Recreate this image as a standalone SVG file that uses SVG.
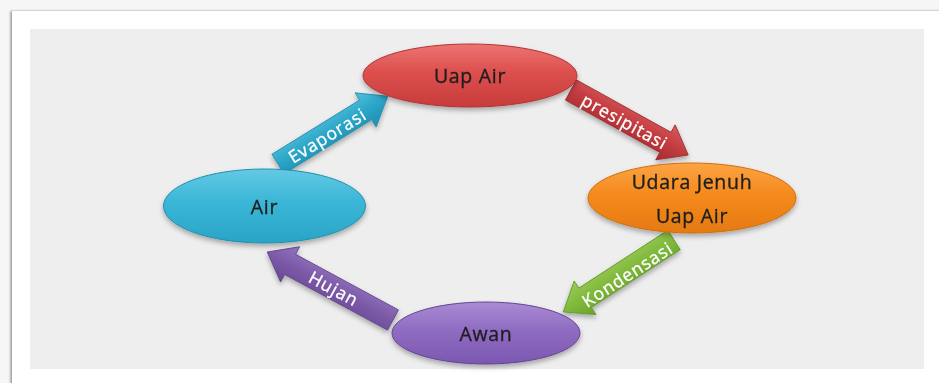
<svg xmlns="http://www.w3.org/2000/svg" width="939" height="383" viewBox="0 0 939 383">
  <style>
    .lbl { font-family: "Open Sans", "Lato", "Liberation Sans", sans-serif; font-size: 19.5px; letter-spacing: 0.7px; fill: #1e1e1e; stroke: #1e1e1e; stroke-width: 0.35px; text-anchor: middle; }
    .alb { font-family: "Open Sans", "Lato", "Liberation Sans", sans-serif; font-size: 17.5px; letter-spacing: 1px; fill: #ffffff; stroke: #ffffff; stroke-width: 0.3px; text-anchor: middle; dominant-baseline: central; }
  </style>
  <defs>
    <filter id="shadow" x="-20%" y="-20%" width="140%" height="160%">
      <feDropShadow dx="0" dy="3" stdDeviation="2.5" flood-color="#000" flood-opacity="0.3"/>
    </filter>
    <filter id="pageShadow" x="-5%" y="-5%" width="110%" height="110%">
      <feDropShadow dx="-1.5" dy="0" stdDeviation="1.2" flood-color="#000" flood-opacity="0.4"/>
    </filter>
    <linearGradient id="gRed" x1="0" y1="0" x2="0" y2="1">
      <stop offset="0" stop-color="#ec7472"/>
      <stop offset="0.45" stop-color="#dc4f4d"/>
      <stop offset="1" stop-color="#c73c3b"/>
    </linearGradient>
    <linearGradient id="gOrange" x1="0" y1="0" x2="0" y2="1">
      <stop offset="0" stop-color="#fba443"/>
      <stop offset="0.45" stop-color="#f58a1e"/>
      <stop offset="1" stop-color="#e57a10"/>
    </linearGradient>
    <linearGradient id="gCyan" x1="0" y1="0" x2="0" y2="1">
      <stop offset="0" stop-color="#63c9e4"/>
      <stop offset="0.45" stop-color="#3ab6d7"/>
      <stop offset="1" stop-color="#2aa4c6"/>
    </linearGradient>
    <linearGradient id="gPurple" x1="0" y1="0" x2="0" y2="1">
      <stop offset="0" stop-color="#a98bd3"/>
      <stop offset="0.45" stop-color="#8f6cc2"/>
      <stop offset="1" stop-color="#7c58b0"/>
    </linearGradient>
    <linearGradient id="aCyan" x1="0" y1="0" x2="0" y2="1">
      <stop offset="0" stop-color="#55c0dc"/>
      <stop offset="0.5" stop-color="#2ba5c8"/>
      <stop offset="1" stop-color="#1e8fb2"/>
    </linearGradient>
    <linearGradient id="aRed" x1="0" y1="0" x2="0" y2="1">
      <stop offset="0" stop-color="#d85a5c"/>
      <stop offset="0.5" stop-color="#c23b3f"/>
      <stop offset="1" stop-color="#a52c30"/>
    </linearGradient>
    <linearGradient id="aGreen" x1="0" y1="0" x2="0" y2="1">
      <stop offset="0" stop-color="#9acc57"/>
      <stop offset="0.5" stop-color="#80b93c"/>
      <stop offset="1" stop-color="#6aa22c"/>
    </linearGradient>
    <linearGradient id="aPurple" x1="0" y1="0" x2="0" y2="1">
      <stop offset="0" stop-color="#9476c0"/>
      <stop offset="0.5" stop-color="#7c5aa8"/>
      <stop offset="1" stop-color="#684893"/>
    </linearGradient>
  </defs>

  <!-- page -->
  <rect x="0" y="0" width="939" height="383" fill="#f6f6f6"/>
  <rect x="12" y="11" width="930" height="375" fill="#ffffff" filter="url(#pageShadow)"/>
  <rect x="30" y="29" width="894" height="340" fill="#eeeeee"/>

  <!-- connectors -->
  <g id="connectors" filter="url(#shadow)">
    <g id="arrow-evaporasi" transform="translate(278,164) rotate(-31.7)">
      <path d="M0,-11.5 H103 V-20 L129,0 L103,20 V11.5 H0 Z" fill="url(#aCyan)" stroke="#1f8cae" stroke-width="0.8"/>
    </g>
    <g id="arrow-presipitasi" transform="translate(571,90) rotate(29)">
      <path d="M0,-11.5 H108 V-20 L134,0 L108,20 V11.5 H0 Z" fill="url(#aRed)" stroke="#9c2a2d" stroke-width="0.8"/>
    </g>
    <g id="arrow-kondensasi" transform="translate(674,240) rotate(147) scale(1,-1)">
      <path d="M0,-11.5 H106 V-20 L132,0 L106,20 V11.5 H0 Z" fill="url(#aGreen)" stroke="#5f962a" stroke-width="0.8"/>
    </g>
    <g id="arrow-hujan" transform="translate(393,320) rotate(208.4) scale(1,-1)">
      <path d="M0,-11.5 H117 V-20 L143,0 L117,20 V11.5 H0 Z" fill="url(#aPurple)" stroke="#5f4388" stroke-width="0.8"/>
    </g>
  </g>
  <g id="connector-labels">
    <text class="alb" transform="translate(327,135) rotate(-31.7)">Evaporasi</text>
    <text class="alb" transform="translate(625,121) rotate(29)">presipitasi</text>
    <text class="alb" transform="translate(627,274) rotate(-33)">Kondensasi</text>
    <text class="alb" transform="translate(334,288) rotate(28.4)">Hujan</text>
  </g>

  <!-- nodes -->
  <g id="node-uap-air">
    <ellipse cx="470" cy="75.5" rx="107" ry="31.5" fill="url(#gRed)" stroke="#b33333" stroke-width="1" filter="url(#shadow)"/>
    <text class="lbl" x="470" y="83">Uap Air</text>
  </g>
  <g id="node-udara-jenuh">
    <ellipse cx="692" cy="198" rx="104" ry="35" fill="url(#gOrange)" stroke="#d06e0c" stroke-width="1" filter="url(#shadow)"/>
    <text class="lbl" x="692" y="189">Udara Jenuh</text>
    <text class="lbl" x="692" y="223">Uap Air</text>
  </g>
  <g id="node-air">
    <ellipse cx="264.5" cy="206" rx="101" ry="37" fill="url(#gCyan)" stroke="#2090b0" stroke-width="1" filter="url(#shadow)"/>
    <text class="lbl" x="264.5" y="214">Air</text>
  </g>
  <g id="node-awan">
    <ellipse cx="486" cy="333" rx="94" ry="31" fill="url(#gPurple)" stroke="#654496" stroke-width="1" filter="url(#shadow)"/>
    <text class="lbl" x="486" y="341">Awan</text>
  </g>
</svg>
